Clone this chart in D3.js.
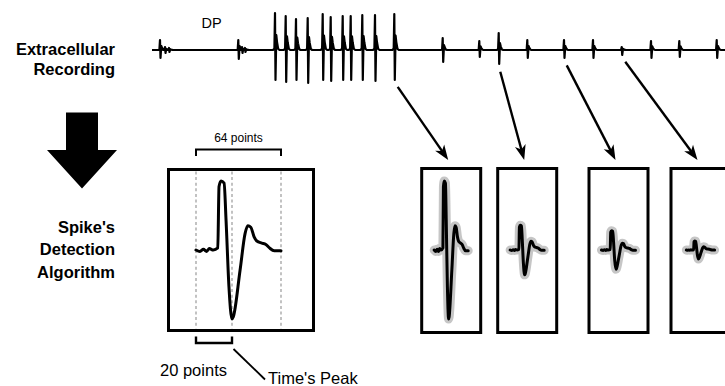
<!DOCTYPE html>
<html>
<head>
<meta charset="utf-8">
<script src="https://cdn.jsdelivr.net/npm/d3@7"></script>
<style>
  html, body { margin: 0; padding: 0; background: #fff; }
  svg { display: block; font-family: "Liberation Sans", Arial, Helvetica, sans-serif; }
</style>
</head>
<body>
<svg id="fig" width="725" height="386"></svg>
<script>
// ---- Raw extracellular trace: spike events ----
// time of each event (s), upward and downward deflection (µV)
const spikeTimes = [0.08, 0.13, 0.17, 0.863, 0.90, 0.93,
  1.23, 1.337, 1.44, 1.557, 1.707, 1.787, 1.907, 1.987, 2.103, 2.23, 2.423,
  2.907, 3.273, 3.467, 3.753, 4.12, 4.41, 4.697, 4.99, 5.273, 5.647];
const spikeUp = [10, 3, 2, 10, 3, 2,
  37, 34, 31, 32, 36, 33, 34, 34, 35, 35, 36,
  12, 9, 17, 10, 10, 10, 3, 9, 9, 10];
const spikeDown = [8, 3, 2, 9, 3, 2,
  30, 32, 30, 33, 30, 31, 30, 30, 30, 31, 30,
  12, 7, 14, 8, 8, 8, 5, 8, 7, 8];
// Shape of one event on the trace: offset (ms), relative deflection
const eventShapeMs = [-20, -6, 0, 5, 13, 20, 32, 45];
const eventShapeRel = [0, 0.04, 1, -1, 0.4, 0.22, 0.03, 0];

// ---- Averaged 64-sample spike waveform ----
const templateSample = [0, 2.2, 4.1, 5.9, 7.4, 9.6, 12.1, 12.8, 13.9, 15.6, 16.7, 18.3, 20,
  21.1, 27.1, 31.5, 33.9, 36.5, 39.4, 41.8, 46.2, 49.7, 52.9, 57.1, 63];
const templateAmp = [0, -0.02, 0.01, -0.02, 0.02, 0, 0.03, 0.92, 1.0, 0.97, 0.43, -0.53, -1.0,
  -0.97, -0.29, 0.24, 0.35, 0.33, 0.19, 0.13, 0.1, 0.08, 0.03, -0.01, -0.01];
// Window guides: window start, time of peak, window end (sample index)
const guideSamples = [0, 20, 63];

// ---- Detected spikes shown in the panels ----
const detectedEvent = [16, 19, 21, 23];          // index into spikeTimes
const detectedScale = [1.0, 0.36, 0.28, 0.13];   // amplitude relative to template

// ---- Text ----
const recordingLabel = ["Extracellular", "Recording"];
const detectionLabel = ["Spike's", "Detection", "Algorithm"];
const traceTag = "DP";
const windowLabel = "64 points";
const preLabel = "20 points";
const peakLabel = "Time's Peak";

const svg = d3.select("#fig");
const ink = "#000";

// ---------------- Trace ----------------
const tx = d3.scaleLinear().domain([0, 5.73]).range([152, 725]);
const ty = d3.scaleLinear().domain([-40, 40]).range([90, 10]);

const tracePts = [[0, 0]];
spikeTimes.forEach((t, i) => {
  eventShapeMs.forEach((ms, k) => {
    const r = eventShapeRel[k];
    tracePts.push([t + ms / 1000, r >= 0 ? r * spikeUp[i] : r * spikeDown[i]]);
  });
});
tracePts.push([6, 0]);

svg.append("path")
  .attr("d", d3.line().x(d => tx(d[0])).y(d => ty(d[1]))(tracePts))
  .attr("fill", "none").attr("stroke", ink)
  .attr("stroke-width", 2.2).attr("stroke-linejoin", "round");

svg.append("text").attr("x", 201.5).attr("y", 27.5)
  .attr("font-size", 14.5).attr("fill", ink).text(traceTag);

// ---------------- Left labels + big arrow ----------------
const labelG = svg.append("g").attr("text-anchor", "end")
  .attr("font-weight", "bold").attr("font-size", 16.5).attr("fill", ink);
recordingLabel.forEach((s, i) => labelG.append("text").attr("x", 115).attr("y", 55 + i * 20).text(s));
detectionLabel.forEach((s, i) => labelG.append("text").attr("x", 115).attr("y", 232.5 + i * 22.5).text(s));

const ax = 82;
svg.append("path")
  .attr("d", `M${ax - 16},112.5 H${ax + 16} V150 H${ax + 35} L${ax},188.5 L${ax - 35},150 H${ax - 16} Z`)
  .attr("fill", ink);

// ---------------- Template panel ----------------
const bx = d3.scaleLinear().domain(guideSamples).range([196, 232, 281]);
const by = d3.scaleLinear().domain([-1, 1]).range([319, 181]);
const bigTop = 169.5, bigBot = 330.5;

svg.selectAll("line.guide").data(guideSamples).join("line")
  .attr("class", "guide")
  .attr("x1", d => bx(d)).attr("x2", d => bx(d))
  .attr("y1", bigTop + 2).attr("y2", bigBot - 2)
  .attr("stroke", "#c2c2c2").attr("stroke-width", 2).attr("stroke-dasharray", "3,2.6");

svg.append("rect").attr("x", 168.5).attr("y", bigTop).attr("width", 145).attr("height", bigBot - bigTop)
  .attr("fill", "none").attr("stroke", ink).attr("stroke-width", 3);

const template = templateSample.map((s, i) => [s, templateAmp[i]]);
svg.append("path")
  .attr("d", d3.line().x(d => bx(d[0])).y(d => by(d[1])).curve(d3.curveMonotoneX)(template))
  .attr("fill", "none").attr("stroke", ink).attr("stroke-width", 3)
  .attr("stroke-linejoin", "round").attr("stroke-linecap", "round");

// brackets
const g0 = bx(guideSamples[0]), g1 = bx(guideSamples[1]), g2 = bx(guideSamples[2]);
svg.append("path").attr("d", `M${g0},156 V149.5 H${g2} V156`)
  .attr("fill", "none").attr("stroke", ink).attr("stroke-width", 2);
svg.append("path").attr("d", `M${g0},336.5 V343 H${g1} V336.5`)
  .attr("fill", "none").attr("stroke", ink).attr("stroke-width", 2.4);
svg.append("line").attr("x1", g1 + 1.5).attr("y1", 349).attr("x2", 265).attr("y2", 379.5)
  .attr("stroke", ink).attr("stroke-width", 1.8);

svg.append("text").attr("x", (g0 + g2) / 2).attr("y", 141.5).attr("text-anchor", "middle")
  .attr("font-size", 12).attr("fill", ink).text(windowLabel);
svg.append("text").attr("x", 160).attr("y", 375.5)
  .attr("font-size", 16.5).attr("fill", ink).text(preLabel);
svg.append("text").attr("x", 268).attr("y", 383.5)
  .attr("font-size", 16.5).attr("fill", ink).text(peakLabel);

// ---------------- Detected spike panels ----------------
const panelLeft = [421.7, 497.7, 589, 671];
const panelW = 59, panelTop = 168.5, panelBot = 332.5;

detectedEvent.forEach((ev, i) => {
  const cx = panelLeft[i] + panelW / 2;
  const spanW = 22 + 12 * Math.min(1, detectedScale[i] / 0.25);
  const px = d3.scaleLinear().domain(guideSamples)
    .range([cx - spanW / 2, cx - spanW / 2 + spanW * 0.424, cx + spanW / 2]);
  const py = d3.scaleLinear().domain([-1, 1]).range([250 + 69 * detectedScale[i], 250 - 69 * detectedScale[i]]);
  const line = d3.line().x(d => px(d[0])).y(d => py(d[1])).curve(d3.curveMonotoneX);

  svg.append("rect").attr("x", panelLeft[i]).attr("y", panelTop)
    .attr("width", panelW).attr("height", panelBot - panelTop)
    .attr("fill", "none").attr("stroke", ink).attr("stroke-width", 3);

  svg.append("path").attr("d", line(template))
    .attr("fill", "none").attr("stroke", "#c6c6c6").attr("stroke-width", 9)
    .attr("stroke-linejoin", "round").attr("stroke-linecap", "round");
  svg.append("path").attr("d", line(template))
    .attr("fill", "none").attr("stroke", ink).attr("stroke-width", 3)
    .attr("stroke-linejoin", "round").attr("stroke-linecap", "round");

  // arrow from the event on the trace to its panel
  const end = [cx - 3, panelTop - 8.5];
  const base = [tx(spikeTimes[ev]), ty(-spikeDown[ev]) + 2];
  const dx = end[0] - base[0], dy = end[1] - base[1];
  const len = Math.hypot(dx, dy), ux = dx / len, uy = dy / len;
  const start = [base[0] + ux * 6, base[1] + uy * 6];
  svg.append("line")
    .attr("x1", start[0]).attr("y1", start[1])
    .attr("x2", end[0] - ux * 8).attr("y2", end[1] - uy * 8)
    .attr("stroke", ink).attr("stroke-width", 2.4);
  const ang = Math.atan2(dy, dx) * 180 / Math.PI;
  svg.append("path").attr("d", "M0,0 L-15,-5.5 L-11,0 L-15,5.5 Z")
    .attr("transform", `translate(${end[0]},${end[1]}) rotate(${ang})`)
    .attr("fill", ink);
});
</script>
</body>
</html>
